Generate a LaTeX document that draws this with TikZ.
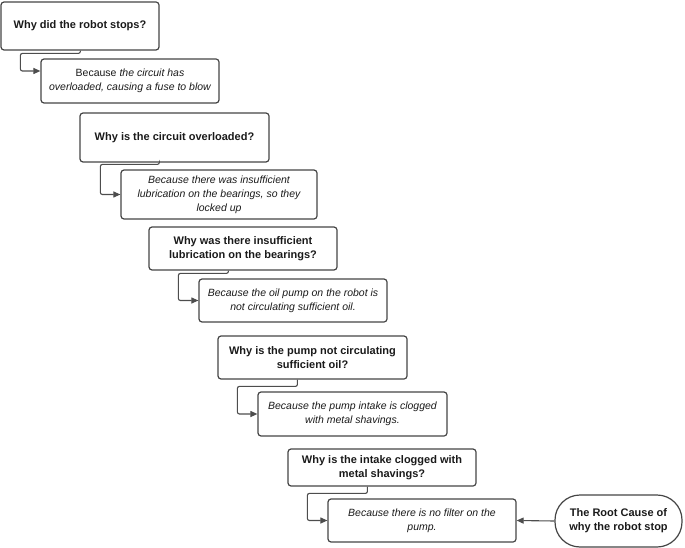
\documentclass[tikz,border=0pt]{standalone}
\usepackage{fontspec}
\setmainfont{Liberation Sans}
\usepackage{xcolor}
\usepackage{tikz}
\usetikzlibrary{positioning}
\usetikzlibrary{arrows.meta}

\definecolor{boxgray}{HTML}{454545}
\definecolor{linegray}{HTML}{4D4D4D}
\definecolor{inkgray}{HTML}{1A1A1A}

\tikzset{
    whybox/.style={draw=boxgray, line width=1.2pt, rounded corners=3pt, text=inkgray,
        align=center, font=\fontsize{11}{14}\selectfont\bfseries},
    ansbox/.style={draw=boxgray, line width=1.2pt, rounded corners=3pt, text=inkgray,
        align=center, font=\fontsize{10.5}{14}\selectfont\itshape},
    rootbox/.style={draw=boxgray, line width=1.2pt, rounded corners=25pt, text=inkgray,
        align=center, font=\fontsize{11}{14}\selectfont\bfseries},
    conn/.style={draw=linegray, line width=1.1pt, rounded corners=2pt,
        -{Triangle[length=7pt, width=6pt]}}
}

\begin{document}
\begin{tikzpicture}[x=1pt, y=-1pt]
        \useasboundingbox (0,0) rectangle (685,548);

        % Preguntas
        \node[whybox, minimum width=158pt, minimum height=48pt] (w1) at (80,26) {Why did the robot stops?};
        \node[whybox, minimum width=189pt, minimum height=49pt] (w2) at (174.5,137.5) {Why is the circuit overloaded?};
        \node[whybox, minimum width=188pt, minimum height=43pt] (w3) at (243,248.5) {Why was there insufficient\\lubrication on the bearings?};
        \node[whybox, minimum width=189pt, minimum height=43pt] (w4) at (312.5,357.5) {Why is the pump not circulating\\sufficient oil?};
        \node[whybox, minimum width=188pt, minimum height=37pt] (w5) at (382,467.5) {Why is the intake clogged with\\metal shavings?};

        % Respuestas
        \node[ansbox, minimum width=178pt, minimum height=44pt] (a1) at (130,81) {\upshape Because \itshape the circuit has\\overloaded, causing a fuse to blow};
        \node[ansbox, minimum width=196pt, minimum height=49pt] (a2) at (219,194.5) {Because there was insufficient\\lubrication on the bearings, so they\\locked up};
        \node[ansbox, minimum width=188pt, minimum height=43pt] (a3) at (293,300.5) {Because the oil pump on the robot is\\not circulating sufficient oil.};
        \node[ansbox, minimum width=189pt, minimum height=44pt] (a4) at (352.5,414) {Because the pump intake is clogged\\with metal shavings.};
        \node[ansbox, minimum width=188pt, minimum height=43pt] (a5) at (422,520.5) {Because there is no filter on the\\pump.};

        % Causa raiz
        \node[rootbox, minimum width=127pt, minimum height=52pt] (root) at (618.5,521) {The Root Cause of\\why the robot stop};

        % Conectores
        \draw[conn] ([xshift=80pt]w1.south west) |- ([xshift=-20pt, yshift=5pt]a1.north west) |- ([yshift=10pt]a1.west);
        \foreach \i in {2,...,5} {
            \draw[conn] ([xshift=80pt]w\i.south west) |- ([xshift=-20pt, yshift=5pt]a\i.north west) |- (a\i.west);
        }
        \draw[conn] (root.west) -- (a5.east);

    \end{tikzpicture}
\end{document}
